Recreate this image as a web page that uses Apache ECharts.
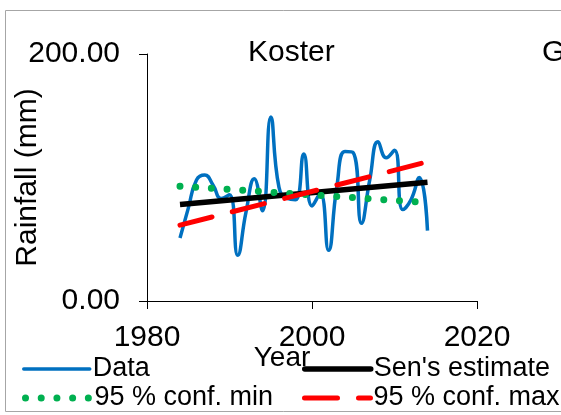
<!DOCTYPE html>
<html>
<head>
<meta charset="utf-8">
<script src="https://cdn.jsdelivr.net/npm/echarts@6/dist/echarts.min.js"></script>
<style>
  html, body { margin: 0; padding: 0; background: #fff; }
  #main { width: 561px; height: 415px; }
</style>
</head>
<body>
<div id="main"></div>
<script>
// annual rainfall, Koster
var years = [1984, 1985, 1986, 1987, 1988, 1989, 1990, 1991, 1992, 1993, 1994,
  1995, 1996, 1997, 1998, 1999, 2000, 2001, 2002, 2003, 2004, 2005, 2006, 2007,
  2008, 2009, 2010, 2011, 2012, 2013, 2014]
var rainfall = [51, 75, 98, 102, 94, 83, 86, 37, 72, 99, 73,
  149, 92, 83, 82, 119, 77, 87, 41, 92, 121, 120, 63, 98,
  129, 116, 122, 74, 82, 100, 57]

// trend lines, start / end of the period
var trendYears = [1984, 2014]
var senEstimate = [78.1, 96.2]
var confMin = [93, 79.7]
var confMax = [61.4, 112.7]

var xTicks = { min: 1980, max: 2020, step: 20 }
var yTicks = { min: 0, max: 200, step: 200 }

function pairs(xs, ys) {
  return xs.map(function (x, i) {
    return [x, ys[i]]
  })
}

var font = 'Liberation Sans, Arial, sans-serif'
var myChart = echarts.init(document.getElementById('main'))

function legendAt(name, left, top) {
  return {
    data: [name],
    left: left,
    top: top,
    padding: 0,
    itemWidth: 66,
    itemHeight: 14,
    itemGap: 0,
    selectedMode: false,
    // hide the marker in the middle of the legend line
    itemStyle: { color: 'rgba(0,0,0,0)', borderWidth: 0, opacity: 0 },
    lineStyle: { width: 'inherit', type: 'inherit', cap: 'round' },
    textStyle: { fontFamily: font, fontSize: 27, color: '#000', lineHeight: 28, padding: [0, 0, 0, -2] },
  }
}

var option = {
  animation: false,
  backgroundColor: '#fff',
  title: [
    { text: 'Koster', left: 248, top: 38, padding: 0, textStyle: { fontFamily: font, fontSize: 30, fontWeight: 'normal', color: '#000' } },
    { text: 'G', left: 542, top: 38, padding: 0, textStyle: { fontFamily: font, fontSize: 30, fontWeight: 'normal', color: '#000' } },
  ],
  graphic: [
    {
      type: 'rect',
      silent: true,
      shape: { x: 5.5, y: 10.5, width: 620, height: 401 },
      style: { fill: 'none', stroke: '#a6a6a6', lineWidth: 1 },
    },
  ],
  legend: [
    legendAt('Data', 22, 355),
    legendAt("Sen's estimate", 302, 355),
    legendAt('95 % conf. min', 22, 384),
    legendAt('95 % conf. max', 302, 384),
  ],
  grid: {
    left: 147,
    right: 84,
    top: 54,
    bottom: 114,
    outerBoundsMode: 'none',
    containLabel: false,
  },
  xAxis: {
    type: 'value',
    min: xTicks.min,
    max: xTicks.max,
    interval: xTicks.step,
    name: 'Year',
    nameLocation: 'middle',
    nameGap: 43,
    nameMoveOverlap: false,
    nameTextStyle: { fontFamily: font, fontSize: 28, color: '#000', padding: [0, 60, 0, 0] },
    axisLine: { lineStyle: { color: '#000', width: 1 } },
    axisTick: { show: true, length: 8, lineStyle: { color: '#000' } },
    axisLabel: {
      fontFamily: font,
      fontSize: 30,
      color: '#000',
      margin: 22,
      formatter: function (v) {
        return String(v)
      },
    },
    splitLine: { show: false },
  },
  yAxis: {
    type: 'value',
    min: yTicks.min,
    max: yTicks.max,
    interval: yTicks.step,
    name: 'Rainfall (mm)',
    nameLocation: 'middle',
    nameRotate: 90,
    nameGap: 104,
    nameMoveOverlap: false,
    nameTextStyle: { fontFamily: font, fontSize: 30, color: '#000' },
    axisLine: { show: true, lineStyle: { color: '#000', width: 1 } },
    axisTick: { show: true, length: 8, lineStyle: { color: '#000' } },
    axisLabel: {
      fontFamily: font,
      fontSize: 30,
      color: '#000',
      margin: 27,
      formatter: function (v) {
        return v.toFixed(2)
      },
    },
    splitLine: { show: false },
  },
  series: [
    {
      name: 'Data',
      type: 'line',
      smooth: 0.5,
      symbol: 'none',
      data: pairs(years, rainfall),
      lineStyle: { color: '#0070c0', width: 3.5 },
      itemStyle: { color: '#0070c0' },
      z: 2,
    },
    {
      name: "Sen's estimate",
      type: 'line',
      symbol: 'none',
      data: pairs(trendYears, senEstimate),
      lineStyle: { color: '#000', width: 5.5 },
      itemStyle: { color: '#000' },
      z: 3,
    },
    {
      name: '95 % conf. min',
      type: 'line',
      symbol: 'none',
      data: pairs(trendYears, confMin),
      lineStyle: { color: '#00b050', width: 7, type: [0.01, 15.7], cap: 'round' },
      itemStyle: { color: '#00b050' },
      z: 4,
    },
    {
      name: '95 % conf. max',
      type: 'line',
      symbol: 'none',
      data: pairs(trendYears, confMax),
      lineStyle: { color: '#ff0000', width: 5, type: [33, 21], cap: 'round' },
      itemStyle: { color: '#ff0000' },
      z: 5,
    },
  ],
}

option && myChart.setOption(option)
window.addEventListener('resize', function () {
  myChart.resize()
})
</script>
</body>
</html>
